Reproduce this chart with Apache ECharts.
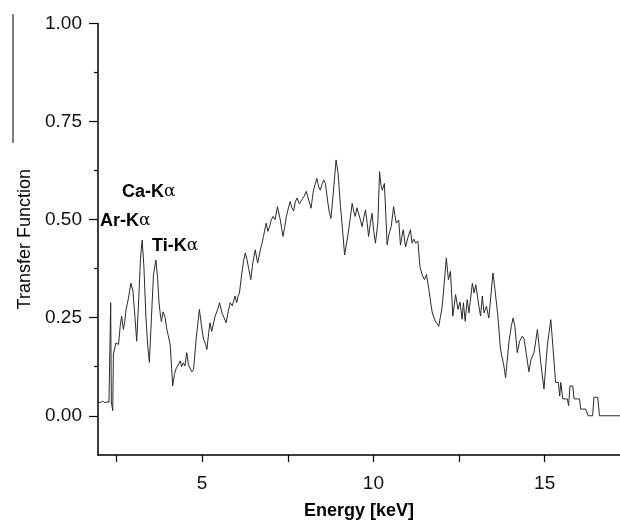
<!DOCTYPE html>
<html>
<head>
<meta charset="utf-8">
<script src="https://cdn.jsdelivr.net/npm/echarts@6/dist/echarts.min.js"></script>
<style>html,body{margin:0;padding:0;background:#fff;}#chart{width:620px;height:525px;}</style>
</head>
<body>
<div id="chart"></div>
<script>
// Energy (keV) and transfer function values
const energyKeV = [
1.96,2.02,2.10,2.16,2.22,2.28,2.31,2.33,2.35,2.39,2.41,2.45,2.48,2.52,2.56,2.61,2.65,2.70,2.74,2.78,
2.85,2.92,2.98,3.04,3.09,3.15,3.20,3.25,3.30,3.36,3.41,3.46,3.52,3.58,3.65,3.70,3.74,3.77,3.81,3.86,
3.92,3.97,4.01,4.07,4.11,4.14,4.19,4.24,4.29,4.36,4.40,4.45,4.50,4.55,4.60,4.65,4.70,4.75,4.83,4.92,
4.98,5.04,5.10,5.14,5.19,5.23,5.28,5.33,5.38,5.45,5.51,5.58,5.64,5.70,5.76,5.82,5.88,5.96,6.01,6.05,
6.09,6.16,6.21,6.26,6.31,6.37,6.42,6.48,6.55,6.62,6.70,6.75,6.79,6.87,6.92,6.97,7.02,7.07,7.13,7.20,
7.28,7.36,7.41,7.46,7.52,7.57,7.62,7.67,7.72,7.77,7.84,7.92,7.98,8.04,8.11,8.18,8.25,8.30,8.35,8.40,
8.45,8.50,8.55,8.60,8.66,8.71,8.76,8.82,8.87,8.91,8.97,9.04,9.10,9.16,9.25,9.32,9.38,9.43,9.47,9.52,
9.57,9.62,9.67,9.72,9.77,9.82,9.86,9.91,9.96,10.01,10.06,10.13,10.18,10.22,10.26,10.32,10.36,10.40,10.46,10.52,
10.59,10.63,10.67,10.74,10.79,10.83,10.87,10.94,11.01,11.08,11.13,11.18,11.23,11.30,11.36,11.42,11.49,11.55,11.62,11.67,
11.72,11.77,11.81,11.86,11.91,11.96,12.01,12.07,12.13,12.19,12.25,12.32,12.40,12.47,12.53,12.59,12.63,12.68,12.74,12.79,
12.89,12.94,12.99,13.08,13.13,13.18,13.23,13.30,13.37,13.43,13.49,13.55,13.63,13.71,13.81,13.86,13.96,14.03,14.08,14.13,
14.20,14.27,14.35,14.40,14.46,14.54,14.60,14.69,14.79,14.88,14.98,15.08,15.18,15.22,15.32,15.36,15.40,15.44,15.47,15.50,
15.53,15.60,15.66,15.70,15.74,15.82,15.86,15.96,16.02,16.05,16.20,16.27,16.40,16.44,16.55,16.60,17.20
];
const transferFn = [
0.034,0.034,0.037,0.033,0.036,0.034,0.030,0.288,0.035,0.013,0.157,0.160,0.185,0.190,0.182,0.230,0.254,0.220,0.240,0.271,
0.300,0.338,0.318,0.250,0.190,0.300,0.400,0.448,0.380,0.250,0.180,0.136,0.250,0.360,0.397,0.350,0.290,0.265,0.240,0.265,
0.250,0.220,0.205,0.180,0.120,0.076,0.105,0.120,0.115,0.140,0.125,0.135,0.127,0.161,0.130,0.135,0.112,0.118,0.200,0.271,
0.230,0.195,0.182,0.169,0.210,0.237,0.215,0.220,0.254,0.270,0.288,0.262,0.250,0.237,0.265,0.288,0.280,0.305,0.288,0.305,
0.313,0.364,0.395,0.415,0.398,0.370,0.347,0.390,0.423,0.389,0.423,0.440,0.457,0.491,0.470,0.482,0.500,0.508,0.500,0.533,
0.500,0.457,0.480,0.508,0.530,0.546,0.530,0.522,0.545,0.555,0.540,0.552,0.560,0.572,0.550,0.529,0.575,0.590,0.605,0.585,
0.575,0.590,0.601,0.592,0.550,0.520,0.503,0.558,0.610,0.652,0.618,0.533,0.474,0.410,0.457,0.500,0.541,0.520,0.508,0.530,
0.525,0.500,0.482,0.505,0.525,0.490,0.457,0.490,0.516,0.470,0.440,0.491,0.622,0.590,0.575,0.592,0.520,0.436,0.465,0.482,
0.533,0.510,0.491,0.499,0.435,0.455,0.474,0.430,0.455,0.474,0.440,0.450,0.440,0.445,0.380,0.360,0.347,0.360,0.322,0.290,
0.262,0.250,0.241,0.235,0.228,0.254,0.279,0.340,0.402,0.347,0.368,0.254,0.309,0.271,0.290,0.246,0.288,0.241,0.296,0.262,
0.338,0.313,0.334,0.279,0.254,0.305,0.262,0.279,0.249,0.305,0.364,0.322,0.258,0.170,0.127,0.097,0.190,0.230,0.249,0.228,
0.161,0.190,0.203,0.195,0.161,0.112,0.143,0.161,0.220,0.140,0.068,0.180,0.245,0.200,0.085,0.085,0.085,0.050,0.085,0.085,
0.043,0.043,0.043,0.026,0.076,0.076,0.043,0.043,0.043,0.017,0.017,0.000,0.000,0.047,0.047,0.000,0.000
];
const xLabelValues = [5, 10, 15];
const xTickValues = [2.5, 5, 7.5, 10, 12.5, 15];
const yLabelValues = [0, 0.25, 0.5, 0.75, 1.0];
const yMinorTickValues = [0.125, 0.375, 0.625, 0.875];
const peakLabels = ['Ca-K', 'Ar-K', 'Ti-K'];

const seriesData = energyKeV.map((e, i) => [e, transferFn[i]]);
const FONT = '"Liberation Sans", Arial, sans-serif';

const chart = echarts.init(document.getElementById('chart'), null, {renderer: 'canvas'});
const rich = {
  b: {fontFamily: FONT, fontWeight: 'bold', fontSize: 18, fill: '#000'},
  a: {fontFamily: '"DejaVu Serif", serif', fontSize: 17, fill: '#000'}
};
function peakText(label, left, top) {
  return {
    type: 'text', left: left, top: top,
    style: {text: '{b|' + label + '}{a|α}', rich: rich, fill: '#000'}
  };
}
chart.setOption({
  backgroundColor: '#fff',
  animation: false,
  grid: {left: 98, top: 23.4, right: 0, bottom: 67.3, containLabel: false},
  xAxis: {
    type: 'value', min: 1.96, max: 17.2,
    name: 'Energy [keV]', nameLocation: 'middle', nameGap: 47,
    nameTextStyle: {fontFamily: FONT, fontWeight: 'bold', fontSize: 18, color: '#000'},
    axisLine: {show: true, onZero: false, lineStyle: {color: '#000', width: 1.5}},
    axisTick: {show: true, inside: false, length: 7, customValues: xTickValues, lineStyle: {color: '#000', width: 1.2}},
    axisLabel: {customValues: xLabelValues, margin: 19, fontFamily: FONT, fontSize: 19, color: '#111', showMinLabel: true, showMaxLabel: true},
    splitLine: {show: false}
  },
  yAxis: [{
    type: 'value', min: -0.1, max: 1.0,
    name: 'Transfer Function', nameLocation: 'middle', nameGap: 63, nameRotate: 90,
    nameTextStyle: {fontFamily: FONT, fontSize: 18, color: '#000'},
    axisLine: {show: true, onZero: false, lineStyle: {color: '#000', width: 1.5}},
    axisTick: {show: true, inside: false, length: 9, customValues: yLabelValues, lineStyle: {color: '#000', width: 1.2}},
    axisLabel: {customValues: yLabelValues, margin: 16, fontFamily: FONT, fontSize: 19, color: '#111',
      formatter: v => v.toFixed(2)},
    splitLine: {show: false}
  }, {
    type: 'value', min: -0.1, max: 1.0, position: 'left',
    axisLine: {show: false, onZero: false},
    axisTick: {show: true, inside: false, length: 4, customValues: yMinorTickValues, lineStyle: {color: '#000', width: 1.2}},
    axisLabel: {show: false},
    splitLine: {show: false}
  }],
  series: [{
    type: 'line', data: seriesData, yAxisIndex: 0,
    showSymbol: false, symbol: 'none', smooth: false,
    lineStyle: {color: '#2a2a2a', width: 1},
    silent: true
  }],
  graphic: [
    peakText(peakLabels[0], 122, 183),
    peakText(peakLabels[1], 100, 212),
    peakText(peakLabels[2], 152, 237),
    {type: 'line', shape: {x1: 13, y1: 14, x2: 13, y2: 143}, style: {stroke: '#000', lineWidth: 1}}
  ]
});
</script>
</body>
</html>
